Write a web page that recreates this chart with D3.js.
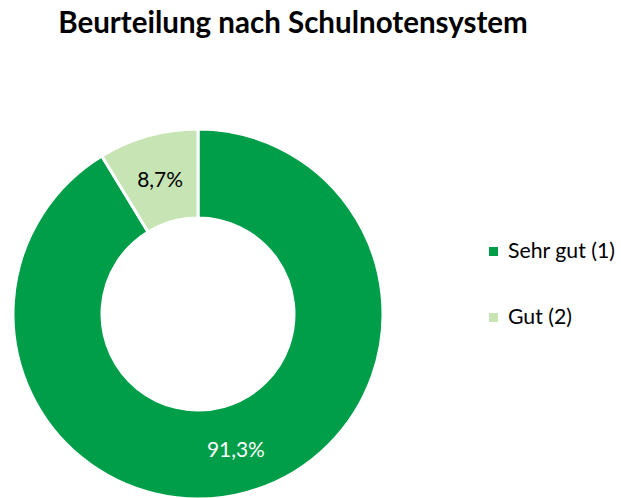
<!DOCTYPE html>
<html>
<head>
<meta charset="utf-8">
<script src="https://cdn.jsdelivr.net/npm/d3@7"></script>
<style>
    body { margin: 0; background: #fff; }
    svg { display: block; font-family: Lato, "Open Sans", sans-serif; }
</style>
</head>
<body>
<svg id="chart" width="621" height="498"></svg>
<script>
const categories = ["Sehr gut (1)", "Gut (2)"];
const values = [91.3, 8.7];
const colors = ["#009e49", "#c6e4b4"];
const labelColors = ["#ffffff", "#000000"];

const svg = d3.select("#chart");
const width = 621;

// fit a text element to a wanted width by changing its font size
function fitWidth(textSel, target, startSize) {
    textSel.style("font-size", startSize + "px");
    let w = textSel.node().getComputedTextLength();
    let size = startSize * target / w;
    textSel.style("font-size", size + "px");
    return size;
}

let title = svg.append("text")
    .attr("x", 293)
    .attr("y", 33)
    .attr("text-anchor", "middle")
    .style("font-weight", "bold")
    .text("Beurteilung nach Schulnotensystem");
fitWidth(title, 470, 24);

const cx = 198, cy = 314;
const outerR = 185, innerR = 96;

let pie = d3.pie().sort(null).value(d => d);
let arc = d3.arc().innerRadius(innerR).outerRadius(outerR);
let labelArc = d3.arc().innerRadius((innerR + outerR) / 2).outerRadius((innerR + outerR) / 2);

let donut = svg.append("g").attr("transform", "translate(" + cx + "," + cy + ")");
let arcs = pie(values);

donut.selectAll("path")
    .data(arcs)
    .enter().append("path")
    .attr("d", arc)
    .attr("fill", (d, i) => colors[i])
    .attr("stroke", "#fff")
    .attr("stroke-width", 3)
    .attr("stroke-linejoin", "miter");

let fmt = v => d3.format(".1f")(v).replace(".", ",") + "%";

let labels = donut.selectAll("text.lbl")
    .data(arcs)
    .enter().append("text")
    .attr("class", "lbl")
    .attr("text-anchor", "middle")
    .attr("x", d => labelArc.centroid(d)[0])
    .attr("y", d => labelArc.centroid(d)[1] + 8)
    .attr("fill", (d, i) => labelColors[i])
    .text(d => fmt(d.data));

let lblSize = fitWidth(d3.select(labels.nodes()[0]), 58, 19);
labels.style("font-size", lblSize + "px");

// legend
let legend = svg.append("g");
let legendY = d3.scalePoint().domain(categories).range([251.5, 317.5]);

let items = legend.selectAll("g")
    .data(categories)
    .enter().append("g")
    .attr("transform", d => "translate(489," + legendY(d) + ")");

items.append("rect")
    .attr("x", 0)
    .attr("y", -4.5)
    .attr("width", 9)
    .attr("height", 9)
    .attr("fill", (d, i) => colors[i]);

let legTexts = items.append("text")
    .attr("x", 19)
    .attr("y", 6.5)
    .attr("fill", "#000")
    .text(d => d);

let legSize = fitWidth(d3.select(legTexts.nodes()[0]), 107, 18);
legTexts.style("font-size", legSize + "px");
</script>
</body>
</html>
